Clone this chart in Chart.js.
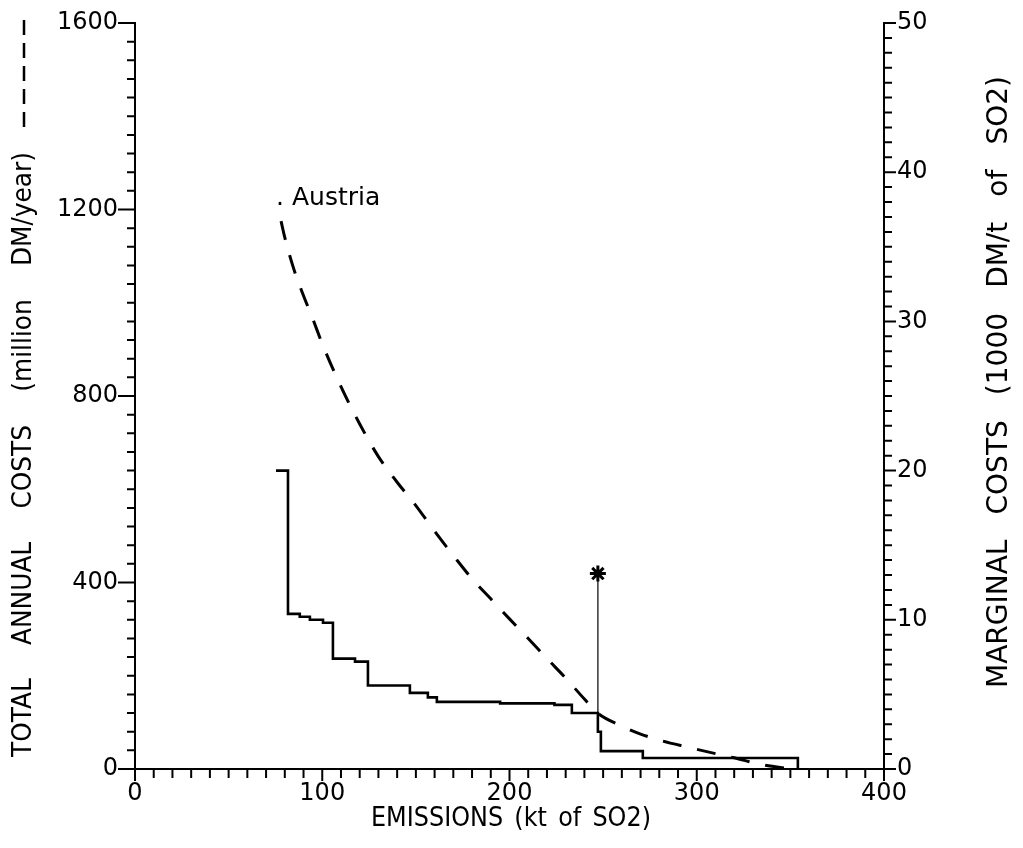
<!DOCTYPE html>
<html>
<head>
<meta charset="utf-8">
<title>Austria - SO2 abatement costs</title>
<script src="https://cdn.jsdelivr.net/npm/chart.js@4.4.1/dist/chart.umd.min.js"></script>
<style>
    html, body { margin: 0; padding: 0; background: #fff; }
    canvas { display: block; }
</style>
</head>
<body>
<canvas id="costChart" width="1023" height="848"></canvas>
<script>
// Total annual costs (million DM/year) against remaining emissions (kt SO2)
const totalX = [78, 80, 85, 90, 95, 100, 110, 120, 130, 140, 150, 160, 170, 180, 190, 200,
                210, 220, 230, 240, 247, 260, 270, 280, 295, 310, 320, 335, 351];
const totalY = [1175, 1140, 1070, 1015, 965, 912, 820, 740, 670, 615, 565, 510, 458, 408, 365, 322,
                280, 237, 195, 150, 120, 92, 75, 62, 47, 33, 24, 9, 0];

// Marginal costs (1000 DM/t of SO2), one entry per step start
const marginalX = [75.3, 81.7, 88.0, 93.4, 100.4, 105.7, 117.5, 124.4, 146.8, 156.4, 161.2,
                   195, 224, 233.3, 247.2, 248.8, 271.2, 354];
const marginalY = [20.0, 10.4, 10.2, 10.0, 9.8, 7.4, 7.2, 5.6, 5.1, 4.8, 4.5,
                   4.4, 4.3, 3.75, 2.5, 1.2, 0.74, 0];

// Current emission level marker
const markerX = [247.2, 247.2];
const markerY = [3.75, 13.1];

// Axis ranges and tick spacing
const xRange = [0, 400, 10, 100];       // min, max, minor step, labelled step
const costRange = [0, 1600, 40, 400];
const marginalRange = [0, 50, 1, 10];

const countryLabel = '. Austria';
const xTitle = ['EMISSIONS', '(kt', 'of', 'SO2)'];
const costTitle = ['TOTAL', 'ANNUAL', 'COSTS', '(million', 'DM/year)'];
const marginalTitle = ['MARGINAL', 'COSTS', '(1000', 'DM/t', 'of', 'SO2)'];

const FONT = '"DejaVu Sans", sans-serif';

function toPoints(xs, ys) {
    return xs.map((x, i) => ({ x: x, y: ys[i] }));
}

// Draw words along the current baseline, spread between two positions.
// The text is squeezed a little along its run to get a narrower face.
function drawSpread(ctx, words, from, to, squeeze) {
    ctx.save();
    ctx.scale(squeeze, 1);
    from /= squeeze;
    to /= squeeze;
    const widths = words.map(w => ctx.measureText(w).width);
    const total = widths.reduce((a, b) => a + b, 0);
    const gap = (to - from - total) / (words.length - 1);
    let pos = from;
    words.forEach((w, i) => {
        ctx.fillText(w, pos, 0);
        pos += widths[i] + gap;
    });
    ctx.restore();
}

// Tick marks, axis titles and the country label
const decorations = {
    id: 'decorations',
    afterDraw(chart) {
        const ctx = chart.ctx;
        const { x, y, y2 } = chart.scales;
        ctx.save();
        ctx.strokeStyle = '#000';
        ctx.fillStyle = '#000';
        ctx.lineWidth = 2;

        ctx.beginPath();
        x.ticks.forEach(t => {
            const px = x.getPixelForValue(t.value);
            const len = t.value % xRange[3] === 0 ? 12 : 9;
            ctx.moveTo(px, x.top);
            ctx.lineTo(px, x.top + len);
        });
        y.ticks.forEach(t => {
            const py = y.getPixelForValue(t.value);
            const len = t.value % costRange[3] === 0 ? 17 : 8;
            ctx.moveTo(y.right, py);
            ctx.lineTo(y.right - len, py);
        });
        y2.ticks.forEach(t => {
            const py = y2.getPixelForValue(t.value);
            const len = t.value % marginalRange[3] === 0 ? 12 : 8;
            ctx.moveTo(y2.left, py);
            ctx.lineTo(y2.left + len, py);
        });
        ctx.stroke();

        ctx.textAlign = 'left';
        ctx.textBaseline = 'middle';

        // x axis title
        ctx.save();
        ctx.translate(0, 819);
        ctx.font = '26px ' + FONT;
        drawSpread(ctx, xTitle, 371, 651, 0.92);
        ctx.restore();

        // left title followed by the dashed line key
        ctx.save();
        ctx.translate(24, 0);
        ctx.rotate(-Math.PI / 2);
        ctx.font = '27px ' + FONT;
        drawSpread(ctx, costTitle, -757, -152, 0.92);
        ctx.beginPath();
        ctx.lineWidth = 2.5;
        ctx.setLineDash([15, 8]);
        ctx.moveTo(-127, 0);
        ctx.lineTo(-18, 0);
        ctx.stroke();
        ctx.restore();

        // right title
        ctx.save();
        ctx.translate(1000, 0);
        ctx.rotate(-Math.PI / 2);
        ctx.font = '28px ' + FONT;
        drawSpread(ctx, marginalTitle, -688, -76, 1);
        ctx.restore();

        // country label at the start of the cost curve
        ctx.font = '25px ' + FONT;
        ctx.textBaseline = 'alphabetic';
        ctx.fillText(countryLabel,
            x.getPixelForValue(totalX[0]) - 5,
            y.getPixelForValue(totalY[0]) - 16);
        ctx.restore();
    }
};

function axisTicks(range, padding) {
    return {
        stepSize: range[2],
        autoSkip: false,
        maxRotation: 0,
        padding: padding,
        color: '#000',
        font: { family: FONT, size: 24 },
        callback: value => (value % range[3] === 0 ? String(value) : '')
    };
}

// Fixed axis band; end labels may overhang the plot area
function fixWidth(width) {
    return scale => {
        scale.width = width;
        scale.paddingTop = 0;
        scale.paddingBottom = 0;
    };
}

const hiddenGrid = { display: true, drawOnChartArea: false, drawTicks: false };
const blackBorder = { display: true, color: '#000', width: 2 };

const ctx = document.getElementById('costChart').getContext('2d');
new Chart(ctx, {
    type: 'line',
    data: {
        datasets: [{
            label: 'Total annual costs',
            data: toPoints(totalX, totalY),
            yAxisID: 'y',
            borderColor: '#000',
            borderWidth: 3,
            borderDash: [19, 16],
            cubicInterpolationMode: 'monotone',
            pointRadius: 0,
            fill: false
        }, {
            label: 'Marginal costs',
            data: toPoints(marginalX, marginalY),
            yAxisID: 'y2',
            borderColor: '#000',
            borderWidth: 2.6,
            stepped: 'before',
            pointRadius: 0,
            fill: false
        }, {
            label: 'Current emissions',
            data: toPoints(markerX, markerY),
            yAxisID: 'y2',
            borderColor: '#333',
            borderWidth: 1.5,
            pointRadius: [0, 8],
            pointStyle: 'star',
            pointBorderColor: '#000',
            pointBorderWidth: 3,
            fill: false
        }]
    },
    options: {
        responsive: false,
        animation: false,
        layout: { padding: { top: 23, left: 0, right: 0, bottom: 0 } },
        plugins: {
            legend: { display: false },
            tooltip: { enabled: false }
        },
        scales: {
            x: {
                type: 'linear',
                min: xRange[0],
                max: xRange[1],
                grid: hiddenGrid,
                border: blackBorder,
                ticks: axisTicks(xRange, 10),
                afterFit: scale => { scale.height = 79; }
            },
            y: {
                type: 'linear',
                position: 'left',
                min: costRange[0],
                max: costRange[1],
                grid: hiddenGrid,
                border: blackBorder,
                ticks: axisTicks(costRange, 17),
                afterFit: fixWidth(135)
            },
            y2: {
                type: 'linear',
                position: 'right',
                min: marginalRange[0],
                max: marginalRange[1],
                grid: hiddenGrid,
                border: blackBorder,
                ticks: axisTicks(marginalRange, 13),
                afterFit: fixWidth(139)
            }
        }
    },
    plugins: [decorations]
});
</script>
</body>
</html>
